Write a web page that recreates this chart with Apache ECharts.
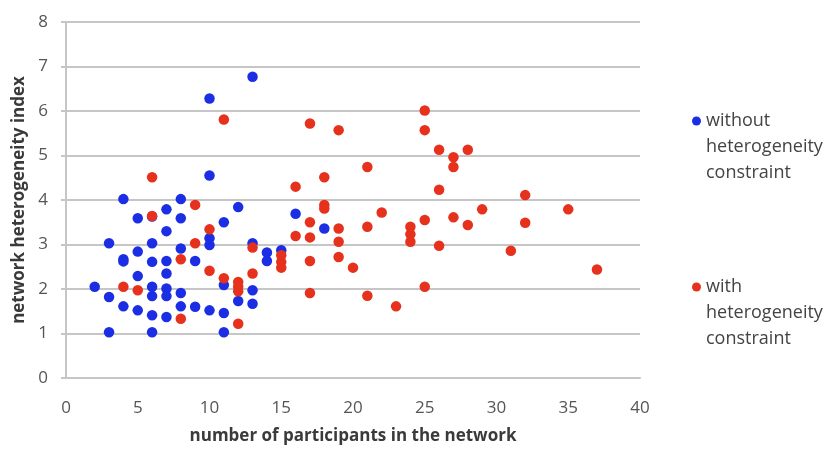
<!DOCTYPE html>
<html>
<head>
<meta charset="utf-8">
<script src="https://cdn.jsdelivr.net/npm/echarts@6/dist/echarts.min.js"></script>
<style>
  html, body { margin: 0; padding: 0; background: #fff; }
  #chart { width: 830px; height: 450px; }
</style>
</head>
<body>
<div id="chart"></div>
<script>
// Networks built without the heterogeneity constraint: [participants, heterogeneity index]
const withoutConstraint = [
  [13, 6.77], [10, 6.28], [10, 4.55], [4, 4.02], [8, 4.02], [12, 3.84], [7, 3.79],
  [5, 3.59], [8, 3.59], [6, 3.63], [16, 3.69], [18, 3.36], [11, 3.5], [7, 3.3],
  [10, 3.14], [10, 2.99], [3, 3.03], [6, 3.03], [13, 3.03], [8, 2.91], [5, 2.84],
  [14, 2.82], [14, 2.63], [15, 2.87], [4, 2.67], [4, 2.62], [6, 2.61], [7, 2.63],
  [9, 2.63], [5, 2.29], [7, 2.35], [2, 2.05], [6, 2.05], [7, 2.01], [11, 2.09],
  [13, 1.97], [3, 1.82], [6, 1.84], [7, 1.84], [8, 1.91], [12, 1.73], [13, 1.67],
  [4, 1.61], [5, 1.52], [6, 1.41], [7, 1.37], [8, 1.61], [9, 1.6], [10, 1.52],
  [11, 1.46], [3, 1.03], [6, 1.03], [11, 1.03]
];

// Networks built with the heterogeneity constraint
const withConstraint = [
  [6, 4.51], [11, 5.81], [6, 3.64], [9, 3.89], [10, 3.34], [9, 3.03], [8, 2.67],
  [10, 2.41], [11, 2.24], [12, 2.16], [12, 2.05], [12, 1.95], [13, 2.93], [13, 2.35],
  [4, 2.05], [5, 1.97], [8, 1.33], [12, 1.22],
  [25, 6.01], [17, 5.72], [19, 5.57], [25, 5.57], [21, 4.74], [18, 4.51], [16, 4.3],
  [18, 3.89], [18, 3.81], [22, 3.72], [17, 3.5], [19, 3.36], [21, 3.4], [24, 3.4],
  [24, 3.23], [24, 3.06], [25, 3.55], [16, 3.19], [17, 3.16], [19, 3.06], [15, 2.76],
  [15, 2.61], [15, 2.48], [17, 2.63], [19, 2.72], [20, 2.48], [17, 1.91], [21, 1.85],
  [23, 1.61], [25, 2.05],
  [26, 5.13], [27, 4.96], [27, 4.74], [28, 5.13], [26, 4.23], [32, 4.11], [29, 3.79],
  [35, 3.79], [27, 3.61], [28, 3.44], [32, 3.49], [26, 2.97], [31, 2.86], [37, 2.44]
];

const seriesNames = ['without heterogeneity constraint', 'with heterogeneity constraint'];
// Legend text, one entry per line
const legendLines = {
  'without heterogeneity constraint': ['without', 'heterogeneity', 'constraint'],
  'with heterogeneity constraint': ['with', 'heterogeneity', 'constraint']
};
const xAxisTitle = 'number of participants in the network';
const yAxisTitle = 'network heterogeneity index';

const FONT = '"Open Sans", "DejaVu Sans", sans-serif';
const BLUE = '#1b2ee4';
const RED = '#e6311d';
const GRID_GREY = '#c6c6c6';

const chart = echarts.init(document.getElementById('chart'), null, { renderer: 'canvas' });

chart.setOption({
  animation: false,
  backgroundColor: '#ffffff',
  textStyle: { fontFamily: FONT },
  grid: { left: 66, right: 190, top: 22, bottom: 72, containLabel: false },
  legend: {
    orient: 'vertical',
    left: 687,
    top: 51,
    itemGap: 36,
    itemWidth: 9,
    itemHeight: 9,
    icon: 'circle',
    data: seriesNames,
    // two blank lines on top keep the marker level with the first text line
    formatter: name => ['', ''].concat(legendLines[name]).join('\n'),
    textStyle: {
      fontFamily: FONT,
      fontSize: 18,
      color: '#444',
      lineHeight: 26
    }
  },
  xAxis: {
    type: 'value',
    min: 0,
    max: 40,
    interval: 5,
    name: xAxisTitle,
    nameLocation: 'middle',
    nameGap: 50,
    nameTextStyle: { fontFamily: FONT, fontSize: 17, fontWeight: 'bold', color: '#3a3a3a' },
    axisLine: { show: true, lineStyle: { color: GRID_GREY, width: 2 } },
    axisTick: { show: false },
    axisLabel: { fontFamily: FONT, fontSize: 17, color: '#555', margin: 22 },
    splitLine: { show: false }
  },
  yAxis: {
    type: 'value',
    min: 0,
    max: 8,
    interval: 1,
    name: yAxisTitle,
    nameLocation: 'middle',
    nameGap: 38,
    nameTextStyle: { fontFamily: FONT, fontSize: 17, fontWeight: 'bold', color: '#3a3a3a' },
    axisLine: { show: true, lineStyle: { color: GRID_GREY, width: 2 } },
    axisTick: { show: true, length: 5, lineStyle: { color: GRID_GREY, width: 2 } },
    axisLabel: { fontFamily: FONT, fontSize: 17, color: '#555', margin: 18 },
    splitLine: { show: true, lineStyle: { color: GRID_GREY, width: 2 } }
  },
  series: [
    {
      name: seriesNames[0],
      type: 'scatter',
      data: withoutConstraint,
      symbol: 'circle',
      symbolSize: 10.5,
      itemStyle: { color: BLUE, opacity: 1 }
    },
    {
      name: seriesNames[1],
      type: 'scatter',
      data: withConstraint,
      symbol: 'circle',
      symbolSize: 10.5,
      itemStyle: { color: RED, opacity: 1 }
    }
  ]
});
</script>
</body>
</html>
